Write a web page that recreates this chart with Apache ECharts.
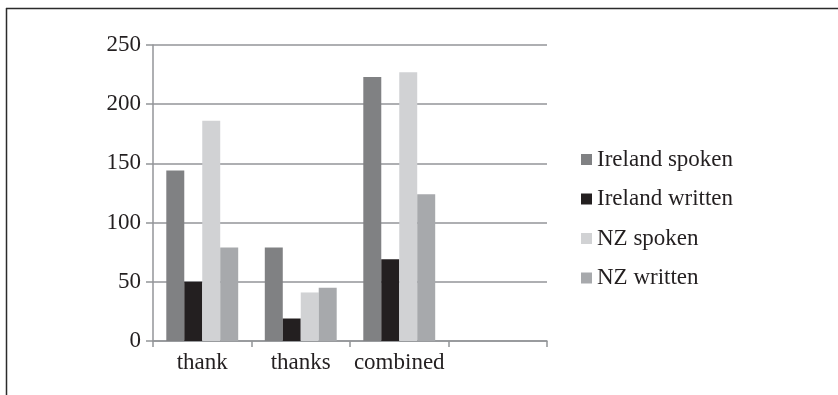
<!DOCTYPE html>
<html>
<head>
<meta charset="utf-8">
<style>
  html, body { margin: 0; padding: 0; background: #ffffff; }
  #chart { width: 838px; height: 395px; }
</style>
<script src="https://cdn.jsdelivr.net/npm/echarts@6/dist/echarts.min.js"></script>
</head>
<body>
<div id="chart"></div>
<script>
// Categories (the fourth slot is intentionally empty)
const categories = ['thank', 'thanks', 'combined', ''];

// Frequencies per series
const irelandSpoken  = [144, 79, 223, null];
const irelandWritten = [50, 19, 69, null];
const nzSpoken       = [186, 41, 227, null];
const nzWritten      = [79, 45, 124, null];

const seriesNames = ['Ireland spoken', 'Ireland written', 'NZ spoken', 'NZ written'];
const seriesColors = ['#808183', '#231f20', '#d1d2d4', '#a7a9ac'];

const FONT = '"Liberation Serif", "Times New Roman", serif';
const TEXT = '#231f20';
const GRID = '#939598';
const FS = 23;

const chart = echarts.init(document.getElementById('chart'), null, { renderer: 'canvas' });

const values = [irelandSpoken, irelandWritten, nzSpoken, nzWritten];

chart.setOption({
  animation: false,
  backgroundColor: '#ffffff',
  textStyle: { fontFamily: FONT, color: TEXT },
  grid: { left: 153, right: 291, top: 45, bottom: 54, containLabel: false },
  legend: {
    orient: 'vertical',
    left: 581,
    top: 148,
    padding: 0,
    icon: 'rect',
    itemWidth: 11,
    itemHeight: 11,
    itemGap: 16.5,
    textStyle: { fontFamily: FONT, fontSize: FS, color: TEXT, lineHeight: 22 },
    data: seriesNames
  },
  xAxis: {
    type: 'category',
    data: categories,
    boundaryGap: true,
    axisLine: { lineStyle: { color: GRID, width: 1.5 } },
    axisTick: { show: true, interval: 0, length: 6, lineStyle: { color: GRID, width: 1.5 } },
    axisLabel: { interval: 0, margin: 10, fontFamily: FONT, fontSize: FS, color: TEXT }
  },
  yAxis: {
    type: 'value',
    min: 0,
    max: 250,
    interval: 50,
    axisLine: { show: true, lineStyle: { color: GRID, width: 1.5 } },
    axisTick: { show: true, length: 7, lineStyle: { color: GRID, width: 1.5 } },
    axisLabel: { margin: 12, fontFamily: FONT, fontSize: FS, color: TEXT },
    splitLine: { show: true, lineStyle: { color: GRID, width: 1.5 } }
  },
  series: seriesNames.map((name, i) => ({
    name: name,
    type: 'bar',
    data: values[i],
    barGap: '0%',
    barCategoryGap: '27%',
    itemStyle: { color: seriesColors[i] }
  })),
  graphic: [
    // outer frame: top and left edges
    { type: 'line', silent: true, shape: { x1: 6, y1: 8.5, x2: 838, y2: 8.5 }, style: { stroke: '#2b2b2b', lineWidth: 1.5 } },
    { type: 'line', silent: true, shape: { x1: 6.5, y1: 8, x2: 6.5, y2: 395 }, style: { stroke: '#2b2b2b', lineWidth: 1.5 } }
  ]
});
</script>
</body>
</html>
